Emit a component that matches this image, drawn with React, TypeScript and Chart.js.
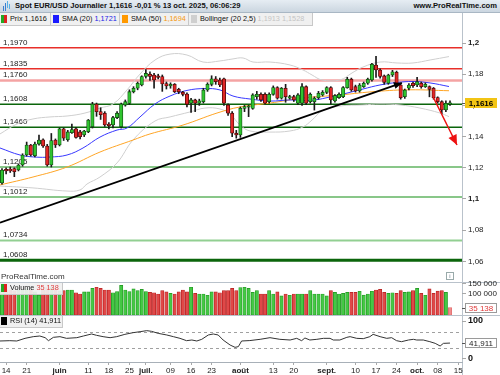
import React, { useEffect, useRef } from 'react';
import { Chart, registerables } from 'chart.js';

Chart.register(...registerables);

const FONT = "'Liberation Sans', Arial, sans-serif";

// ---------------- DATA ----------------
// trading-day index 0 = 13 May 2025 ... 109 = 13 Oct 2025
const opens = [
  1.1103, 1.1190, 1.1192, 1.1195, 1.1186, 1.1218, 1.1282, 1.1346, 1.1278, 1.1352,
  1.1380, 1.1340, 1.1218, 1.1378, 1.1346, 1.1450, 1.1380, 1.1425, 1.1450, 1.1430,
  1.1410, 1.1431, 1.1463, 1.1609, 1.1560, 1.1550, 1.1480, 1.1475, 1.1522, 1.1463,
  1.1602, 1.1613, 1.1688, 1.1710, 1.1731, 1.1785, 1.1800, 1.1795, 1.1790, 1.1785,
  1.1740, 1.1725, 1.1735, 1.1703, 1.1684, 1.1673, 1.1614, 1.1635, 1.1614, 1.1624,
  1.1699, 1.1735, 1.1770, 1.1763, 1.1770, 1.1603, 1.1550, 1.1422, 1.1410, 1.1581,
  1.1588, 1.1581, 1.1656, 1.1671, 1.1671, 1.1624, 1.1671, 1.1714, 1.1646, 1.1710,
  1.1646, 1.1656, 1.1614, 1.1614, 1.1720, 1.1624, 1.1624, 1.1650, 1.1667, 1.1684,
  1.1714, 1.1629, 1.1650, 1.1656, 1.1714, 1.1768, 1.1720, 1.1693, 1.1720, 1.1742,
  1.1763, 1.1859, 1.1827, 1.1789, 1.1742, 1.1795, 1.1812, 1.1731, 1.1656, 1.1710,
  1.1742, 1.1731, 1.1742, 1.1720, 1.1720, 1.1710, 1.1650, 1.1624, 1.1571, 1.1609,
];
const highs = [
  1.1195, 1.1200, 1.1205, 1.1200, 1.1225, 1.1290, 1.1365, 1.1350, 1.1365, 1.1410,
  1.1385, 1.1350, 1.1420, 1.1385, 1.1455, 1.1455, 1.1440, 1.1480, 1.1460, 1.1440,
  1.1440, 1.1510, 1.1620, 1.1615, 1.1585, 1.1560, 1.1490, 1.1530, 1.1560, 1.1615,
  1.1635, 1.1700, 1.1720, 1.1750, 1.1790, 1.1830, 1.1815, 1.1805, 1.1800, 1.1795,
  1.1750, 1.1745, 1.1740, 1.1710, 1.1690, 1.1680, 1.1645, 1.1640, 1.1640, 1.1710,
  1.1745, 1.1790, 1.1785, 1.1775, 1.1775, 1.1610, 1.1560, 1.1440, 1.1590, 1.1600,
  1.1600, 1.1675, 1.1690, 1.1680, 1.1680, 1.1680, 1.1725, 1.1720, 1.1715, 1.1735,
  1.1665, 1.1665, 1.1675, 1.1740, 1.1725, 1.1680, 1.1655, 1.1690, 1.1695, 1.1720,
  1.1720, 1.1670, 1.1680, 1.1720, 1.1780, 1.1775, 1.1730, 1.1740, 1.1750, 1.1775,
  1.1870, 1.1915, 1.1835, 1.1795, 1.1800, 1.1825, 1.1820, 1.1735, 1.1705, 1.1740,
  1.1750, 1.1780, 1.1750, 1.1745, 1.1725, 1.1715, 1.1655, 1.1630, 1.1630, 1.1630,
];
const lows = [
  1.1095, 1.1160, 1.1170, 1.1143, 1.1180, 1.1210, 1.1275, 1.1275, 1.1270, 1.1345,
  1.1330, 1.1210, 1.1205, 1.1330, 1.1340, 1.1375, 1.1370, 1.1420, 1.1390, 1.1385,
  1.1400, 1.1425, 1.1455, 1.1530, 1.1510, 1.1465, 1.1450, 1.1455, 1.1515, 1.1455,
  1.1595, 1.1605, 1.1680, 1.1700, 1.1725, 1.1775, 1.1760, 1.1710, 1.1770, 1.1690,
  1.1705, 1.1710, 1.1682, 1.1675, 1.1660, 1.1590, 1.1555, 1.1560, 1.1600, 1.1615,
  1.1690, 1.1725, 1.1735, 1.1720, 1.1600, 1.1535, 1.1400, 1.1390, 1.1395, 1.1560,
  1.1528, 1.1575, 1.1640, 1.1625, 1.1608, 1.1615, 1.1665, 1.1640, 1.1640, 1.1620,
  1.1640, 1.1625, 1.1605, 1.1600, 1.1605, 1.1615, 1.1570, 1.1640, 1.1660, 1.1675,
  1.1608, 1.1620, 1.1645, 1.1650, 1.1710, 1.1690, 1.1685, 1.1685, 1.1715, 1.1735,
  1.1755, 1.1780, 1.1775, 1.1735, 1.1735, 1.1785, 1.1725, 1.1640, 1.1645, 1.1700,
  1.1715, 1.1720, 1.1710, 1.1715, 1.1655, 1.1640, 1.1615, 1.1545, 1.1560, 1.1600,
];
const closes = [
  1.1186, 1.1180, 1.1180, 1.1175, 1.1218, 1.1282, 1.1346, 1.1282, 1.1352, 1.1378,
  1.1340, 1.1218, 1.1375, 1.1346, 1.1450, 1.1390, 1.1430, 1.1445, 1.1395, 1.1400,
  1.1435, 1.1506, 1.1609, 1.1560, 1.1540, 1.1475, 1.1470, 1.1522, 1.1550, 1.1609,
  1.1624, 1.1688, 1.1710, 1.1742, 1.1785, 1.1805, 1.1785, 1.1763, 1.1780, 1.1737,
  1.1725, 1.1735, 1.1688, 1.1688, 1.1671, 1.1607, 1.1635, 1.1614, 1.1630, 1.1699,
  1.1735, 1.1770, 1.1752, 1.1731, 1.1614, 1.1550, 1.1422, 1.1410, 1.1581, 1.1592,
  1.1595, 1.1667, 1.1671, 1.1635, 1.1614, 1.1671, 1.1714, 1.1646, 1.1710, 1.1656,
  1.1656, 1.1635, 1.1667, 1.1720, 1.1614, 1.1671, 1.1646, 1.1678, 1.1684, 1.1714,
  1.1635, 1.1663, 1.1671, 1.1714, 1.1768, 1.1699, 1.1693, 1.1731, 1.1742, 1.1768,
  1.1864, 1.1827, 1.1785, 1.1748, 1.1795, 1.1816, 1.1731, 1.1650, 1.1699, 1.1731,
  1.1727, 1.1752, 1.1720, 1.1735, 1.1703, 1.1650, 1.1624, 1.1571, 1.1614, 1.1616,
];
const volumes = [
  125000, 120000, 118000, 115000, 118000, 120000, 125000, 118000, 110000, 94000,
  120000, 130000, 130000, 120000, 115000, 116000, 119000, 119000, 106000, 100000,
  110000, 110000, 127000, 132000, 127000, 119000, 119000, 106000, 111000, 141000,
  119000, 111000, 124000, 116000, 122000, 111000, 108000, 106000, 100000, 116000,
  110000, 103000, 100000, 110000, 119000, 110000, 132000, 103000, 100000, 100000,
  94000, 110000, 110000, 106000, 116000, 116000, 127000, 116000, 130000, 132000,
  127000, 108000, 116000, 100000, 100000, 116000, 100000, 110000, 91000, 100000,
  94000, 100000, 100000, 100000, 100000, 116000, 100000, 100000, 100000, 91000,
  116000, 108000, 100000, 103000, 108000, 108000, 108000, 113000, 95000, 100000,
  113000, 119000, 122000, 108000, 103000, 106000, 103000, 116000, 108000, 110000,
  116000, 127000, 103000, 94000, 124000, 103000, 114000, 116000, 108000, 35138,
];

// indicator curves (index, value)
const sma20Idx = [-0.49, 4.38, 8.03, 11.68, 15.82, 19.71, 23.84, 27.98, 30.41, 33.58, 37.23, 40.88, 45.01, 49.39, 53.04, 56.2, 60.34, 65.21, 70.07, 73.24, 76.16, 79.81, 83.94, 87.83, 91.97, 96.11, 100.0, 104.14, 108.76];
const sma20Val = [1.1327, 1.1282, 1.1269, 1.1269, 1.1282, 1.1327, 1.1397, 1.1442, 1.1455, 1.1526, 1.1609, 1.1660, 1.1696, 1.1708, 1.1699, 1.1660, 1.1641, 1.1628, 1.1635, 1.1631, 1.1635, 1.1654, 1.1679, 1.1705, 1.1731, 1.1747, 1.1753, 1.1744, 1.1721];
const sma50Idx = [-0.49, 7.54, 15.82, 23.84, 31.87, 36.01, 44.04, 52.31, 57.91, 65.21, 73.24, 82.24, 91.24, 99.27, 108.76];
const sma50Val = [1.1090, 1.1141, 1.1205, 1.1301, 1.1378, 1.1417, 1.1474, 1.1551, 1.1590, 1.1615, 1.1647, 1.1667, 1.1690, 1.1700, 1.1694];
const bbUpIdx = [-0.49, 3.65, 7.54, 11.68, 15.82, 20.19, 23.84, 27.01, 30.41, 33.58, 37.23, 40.88, 45.01, 48.91, 53.04, 55.96, 58.64, 61.07, 65.21, 70.07, 73.24, 75.43, 77.86, 82.24, 85.16, 87.83, 91.97, 96.11, 100.0, 104.14, 108.76];
const bbUpVal = [1.1417, 1.1481, 1.1513, 1.1526, 1.1532, 1.1551, 1.1583, 1.1609, 1.1699, 1.1801, 1.1891, 1.1929, 1.1923, 1.1878, 1.1885, 1.1897, 1.1904, 1.1878, 1.1878, 1.1859, 1.1827, 1.1795, 1.1763, 1.1763, 1.1808, 1.1846, 1.1878, 1.1872, 1.1872, 1.1891, 1.1913];
const bbLoIdx = [-0.49, 7.54, 15.82, 18.98, 20.68, 23.84, 27.98, 31.87, 37.23, 40.88, 45.74, 49.39, 53.04, 55.47, 57.91, 60.34, 65.21, 70.07, 73.24, 75.43, 77.86, 82.24, 87.83, 91.97, 96.84, 101.7, 106.57, 108.76];
const bbLoVal = [1.1083, 1.1071, 1.1051, 1.1058, 1.1096, 1.1141, 1.1231, 1.1378, 1.1500, 1.1526, 1.1558, 1.1583, 1.1577, 1.1545, 1.1474, 1.1436, 1.1429, 1.1436, 1.1462, 1.1506, 1.1564, 1.1596, 1.1603, 1.1609, 1.1603, 1.1583, 1.1551, 1.1528];

const rsiIdx = [-0.49, 1.9, 3.6, 5.6, 7.6, 9.2, 10.5, 11.3, 12.5, 14.1, 15.7, 18.2, 19.8, 21.8, 23.0, 24.6, 26.3, 27.9, 29.9, 31.9, 33.6, 35.2, 36.4, 38.0, 40.1, 41.7, 43.3, 44.9, 46.2, 47.4, 48.6, 50.2, 51.4, 52.6, 53.8, 55.5, 56.7, 57.5, 58.3, 60.3, 62.8, 65.2, 67.6, 70.1, 71.7, 72.9, 73.7, 74.9, 76.6, 78.2, 79.8, 80.6, 82.2, 83.9, 84.7, 86.3, 87.9, 89.5, 90.3, 92.0, 93.6, 94.8, 96.0, 97.2, 98.9, 100.1, 100.9, 102.5, 104.1, 105.4, 106.6, 107.4, 109];
const rsiVal = [47.4, 48.2, 47.4, 54.4, 58.8, 60.5, 56.1, 48.2, 57.0, 58.8, 54.4, 56.1, 60.5, 65.8, 62.3, 58.8, 56.1, 58.8, 64.9, 69.3, 71.9, 74.6, 72.8, 67.5, 63.2, 58.8, 54.4, 48.2, 50.0, 47.4, 51.8, 63.2, 65.8, 63.2, 50.0, 36.8, 30.7, 32.5, 47.4, 48.5, 51.8, 56.1, 51.8, 50.0, 54.4, 48.2, 55.3, 50.0, 51.8, 54.4, 54.4, 50.0, 50.0, 57.0, 58.8, 54.4, 53.5, 58.8, 64.9, 58.8, 54.4, 56.1, 48.2, 45.6, 50.0, 51.8, 50.0, 50.0, 45.6, 41.2, 34.2, 41.2, 41.911];

// drawn lines
const trendIdx = [-0.49, 97.3];
const trendVal = [1.0848, 1.1744];
const arrowIdx = [104.9, 110.7];
const arrowVal = [1.1654, 1.1346];

// horizontal levels
const levelValues = [1.1970, 1.1835, 1.1760, 1.1608, 1.1460, 1.1205, 1.1012, 1.0734, 1.0608];
const levelLabels = ['1,1970', '1,1835', '1,1760', '1,1608', '1,1460', '1,1205', '1,1012', '1,0734', '1,0608'];
const levelColors = ['#e8302a', '#e8302a', '#f4a3a3', '#0b650b', '#0b650b', '#62b462', '#62b462', '#92cf92', '#0b650b'];
const levelWidths = [1.5, 1.5, 2.5, 1.5, 1.5, 1.5, 1.5, 2, 3];

// axes
const priceTicks = [1.06, 1.08, 1.1, 1.12, 1.14, 1.16, 1.18, 1.2];
const priceTickLabels = ['1,06', '1,08', '1,1', '1,12', '1,14', '1,16', '1,18', '1,2'];
const volTicks = [100000, 150000];
const volTickLabels = ['100 000', '150 000'];
const rsiTicks = [0, 100];
const dateTickIdx = [1, 6, 14, 21, 26, 31, 35, 41, 46, 51, 58, 66, 71, 79, 86, 91, 96, 101, 106, 111];
const dateTickLabels = ['14', '21', 'juin', '11', '18', '25', 'juil.', '09', '16', '23', 'août', '13', '20', 'sept.', '10', '17', '24', 'oct.', '08', '15'];
const monthLabels = ['juin', 'juil.', 'août', 'sept.', 'oct.'];

const X_MIN = -0.487;
const X_MAX = 111.92;

// ---------------- helpers ----------------
const pts = (xs: number[], ys: number[]) => xs.map((x, i) => ({ x, y: ys[i] }));
const isUp = (i: number) => closes[i] >= opens[i];

function arrowHead(ctx: CanvasRenderingContext2D, x1: number, y1: number, x2: number, y2: number, len: number, half: number, color: string) {
  const a = Math.atan2(y2 - y1, x2 - x1);
  const bx = x2 - len * Math.cos(a);
  const by = y2 - len * Math.sin(a);
  ctx.save();
  ctx.fillStyle = color;
  ctx.beginPath();
  ctx.moveTo(x2, y2);
  ctx.lineTo(bx + half * Math.sin(a), by - half * Math.cos(a));
  ctx.lineTo(bx - half * Math.sin(a), by + half * Math.cos(a));
  ctx.closePath();
  ctx.fill();
  ctx.restore();
}

function valueBox(ctx: CanvasRenderingContext2D, y: number, text: string, fill: string, stroke: string | null, color: string, bold: boolean) {
  ctx.save();
  ctx.fillStyle = fill;
  ctx.fillRect(465, y - 5, 32, 10);
  if (stroke) {
    ctx.strokeStyle = stroke;
    ctx.lineWidth = 1;
    ctx.strokeRect(465.5, y - 4.5, 31, 9);
  }
  ctx.strokeStyle = '#555';
  ctx.beginPath();
  ctx.moveTo(462, y + 0.5);
  ctx.lineTo(465, y + 0.5);
  ctx.stroke();
  ctx.fillStyle = color;
  ctx.font = `${bold ? 'bold ' : ''}8px ${FONT}`;
  ctx.textAlign = 'center';
  ctx.textBaseline = 'middle';
  ctx.fillText(text, 481, y + 0.5);
  ctx.restore();
}

const yAxisBase = (min: number, max: number) => ({
  type: 'linear',
  position: 'right',
  min,
  max,
  afterFit: (s: any) => {
    s.width = 38;
    s.paddingTop = 0;
    s.paddingBottom = 0;
  },
  grid: { drawOnChartArea: false, drawTicks: true, tickLength: 4, color: '#a8a8a8' },
  border: { display: false },
});

const hiddenX = { type: 'linear', min: X_MIN, max: X_MAX, offset: false, display: false };

const baseOptions = (top: number, bottom: number) => ({
  responsive: false,
  animation: false,
  events: [],
  layout: { padding: { left: 0, right: 0, top, bottom } },
  plugins: { legend: { display: false }, tooltip: { enabled: false } },
});

// ---------------- price chart ----------------
function priceConfig(): any {
  const idx = closes.map((_, i) => i);
  const bodies = idx.map((i) => {
    let o = opens[i];
    let c = closes[i];
    if (Math.abs(c - o) < 0.00025) c = o + (isUp(i) ? 0.00025 : -0.00025);
    return { x: i, y: [o, c] };
  });
  const decor = {
    id: 'priceDecor',
    beforeDatasetsDraw(chart: any) {
      const { ctx, chartArea: a, scales } = chart;
      const y = scales.y;
      ctx.save();
      levelValues.forEach((v, i) => {
        const py = y.getPixelForValue(v);
        ctx.strokeStyle = levelColors[i];
        ctx.lineWidth = levelWidths[i];
        ctx.beginPath();
        ctx.moveTo(a.left, py);
        ctx.lineTo(a.right, py);
        ctx.stroke();
        ctx.fillStyle = '#222';
        ctx.font = `8px ${FONT}`;
        ctx.textAlign = 'left';
        ctx.textBaseline = 'alphabetic';
        ctx.fillText(levelLabels[i], 3, py - levelWidths[i] / 2 - 2);
      });
      ctx.restore();
    },
    afterDatasetsDraw(chart: any) {
      const { ctx, scales } = chart;
      const x = scales.x;
      const y = scales.y;
      arrowHead(ctx, x.getPixelForValue(trendIdx[0]), y.getPixelForValue(trendVal[0]), x.getPixelForValue(trendIdx[1]), y.getPixelForValue(trendVal[1]), 8, 3.5, '#000');
      arrowHead(ctx, x.getPixelForValue(arrowIdx[0]), y.getPixelForValue(arrowVal[0]), x.getPixelForValue(arrowIdx[1]), y.getPixelForValue(arrowVal[1]), 10, 4.5, '#ee1111');
      const last = closes.length - 1;
      valueBox(ctx, Math.round(y.getPixelForValue(closes[last])), '1,1616', '#f2c414', null, '#000', true);
    },
  };
  return {
    type: 'bar',
    data: {
      datasets: [
        { type: 'line', data: pts(trendIdx, trendVal), borderColor: '#000', borderWidth: 1.8, pointRadius: 0, order: -1 },
        { type: 'line', data: pts(arrowIdx, arrowVal), borderColor: '#ee1111', borderWidth: 1.5, pointRadius: 0, order: -2 },
        {
          type: 'bar',
          data: bodies,
          backgroundColor: idx.map((i) => (isUp(i) ? '#2fc42f' : '#e02626')),
          borderColor: idx.map((i) => (isUp(i) ? '#124d12' : '#4d0a0a')),
          borderWidth: 0.8,
          borderSkipped: false,
          barThickness: 3.4,
          grouped: false,
          order: 0,
        },
        {
          type: 'bar',
          data: idx.map((i) => ({ x: i, y: [lows[i], highs[i]] })),
          backgroundColor: '#1a1a1a',
          barThickness: 1,
          grouped: false,
          order: 1,
        },
        { type: 'line', data: pts(sma20Idx, sma20Val), borderColor: '#3838ff', borderWidth: 1, pointRadius: 0, tension: 0.4, order: 2 },
        { type: 'line', data: pts(sma50Idx, sma50Val), borderColor: '#ffa526', borderWidth: 1, pointRadius: 0, tension: 0.4, order: 3 },
        { type: 'line', data: pts(bbUpIdx, bbUpVal), borderColor: '#cfcfcf', borderWidth: 1, pointRadius: 0, tension: 0.4, order: 4 },
        { type: 'line', data: pts(bbLoIdx, bbLoVal), borderColor: '#cfcfcf', borderWidth: 1, pointRadius: 0, tension: 0.4, order: 4 },
      ],
    },
    options: {
      ...baseOptions(27, 375 - 282),
      scales: {
        x: hiddenX,
        y: {
          ...yAxisBase(1.04679, 1.21026),
          afterBuildTicks: (s: any) => {
            s.ticks = priceTicks.map((v) => ({ value: v }));
          },
          ticks: {
            autoSkip: false,
            padding: 2,
            color: '#222',
            callback: (_v: any, i: number) => priceTickLabels[i],
            font: (c: any) => ({ family: FONT, size: 8, weight: c.tick && (c.tick.value === 1.2 || c.tick.value === 1.1) ? 'bold' : 'normal' }),
          },
        },
      },
    },
    plugins: [decor],
  };
}

// ---------------- volume chart ----------------
function volumeConfig(): any {
  const idx = volumes.map((_, i) => i);
  const last = volumes.length - 1;
  const decor = {
    id: 'volDecor',
    afterDatasetsDraw(chart: any) {
      const y = chart.scales.y;
      valueBox(chart.ctx, Math.round(y.getPixelForValue(volumes[last])), '35 138', '#fff', '#9a9a9a', '#e03a3a', false);
    },
  };
  return {
    type: 'bar',
    data: {
      datasets: [
        {
          data: idx.map((i) => ({ x: i, y: volumes[i] })),
          backgroundColor: idx.map((i) => (i === last ? '#f08c8c' : isUp(i) ? '#45c845' : '#e04848')),
          borderColor: idx.map((i) => (i === last ? '#e06a6a' : isUp(i) ? '#1f951f' : '#b51f1f')),
          borderWidth: 0.7,
          borderSkipped: false,
          barThickness: 3.3,
          grouped: false,
        },
      ],
    },
    options: {
      ...baseOptions(282, 375 - 315),
      scales: {
        x: hiddenX,
        y: {
          ...yAxisBase(0, 157000),
          afterBuildTicks: (s: any) => {
            s.ticks = volTicks.map((v) => ({ value: v }));
          },
          ticks: {
            autoSkip: false,
            padding: 2,
            color: '#222',
            callback: (_v: any, i: number) => volTickLabels[i],
            font: { family: FONT, size: 8 },
          },
        },
      },
    },
    plugins: [decor],
  };
}

// ---------------- RSI chart ----------------
function rsiConfig(): any {
  const decor = {
    id: 'rsiDecor',
    beforeDatasetsDraw(chart: any) {
      const { ctx, chartArea: a, scales } = chart;
      ctx.save();
      ctx.strokeStyle = '#a0a0a0';
      ctx.lineWidth = 1;
      ctx.setLineDash([3, 3]);
      [70, 30].forEach((v) => {
        const py = Math.round(scales.y.getPixelForValue(v)) + 0.5;
        ctx.beginPath();
        ctx.moveTo(a.left, py);
        ctx.lineTo(a.right, py);
        ctx.stroke();
      });
      ctx.restore();
    },
    afterDatasetsDraw(chart: any) {
      const y = chart.scales.y;
      valueBox(chart.ctx, Math.round(y.getPixelForValue(rsiVal[rsiVal.length - 1])), '41,911', '#fff', '#9a9a9a', '#222', false);
    },
  };
  return {
    type: 'line',
    data: {
      datasets: [
        { data: pts(rsiIdx, rsiVal), borderColor: '#333', borderWidth: 1, pointRadius: 0, tension: 0 },
      ],
    },
    options: {
      ...baseOptions(315, 0),
      scales: {
        x: {
          type: 'linear',
          min: X_MIN,
          max: X_MAX,
          offset: false,
          position: 'bottom',
          afterBuildTicks: (s: any) => {
            s.ticks = dateTickIdx.map((v) => ({ value: v }));
          },
          afterFit: (s: any) => {
            s.height = 13;
            s.paddingLeft = 0;
            s.paddingRight = 0;
          },
          grid: { drawOnChartArea: false, drawTicks: true, tickLength: 3, color: '#a8a8a8' },
          border: { display: true, color: '#a8b0b8' },
          ticks: {
            autoSkip: false,
            maxRotation: 0,
            padding: 1,
            color: '#222',
            callback: (_v: any, i: number) => dateTickLabels[i],
            font: (c: any) => ({ family: FONT, size: 8, weight: c.index !== undefined && monthLabels.includes(dateTickLabels[c.index]) ? 'bold' : 'normal' }),
          },
        },
        y: {
          ...yAxisBase(-7.9, 115.8),
          afterBuildTicks: (s: any) => {
            s.ticks = rsiTicks.map((v) => ({ value: v }));
          },
          ticks: {
            autoSkip: false,
            padding: 2,
            color: '#111',
            callback: (v: any) => String(v),
            font: { family: FONT, size: 9, weight: 'bold' },
          },
        },
      },
    },
    plugins: [decor],
  };
}

// ---------------- component ----------------
const abs = (s: React.CSSProperties): React.CSSProperties => ({ position: 'absolute', ...s });

export default function App() {
  const r1 = useRef<HTMLCanvasElement>(null);
  const r2 = useRef<HTMLCanvasElement>(null);
  const r3 = useRef<HTMLCanvasElement>(null);

  useEffect(() => {
    const c1 = new Chart(r1.current as HTMLCanvasElement, priceConfig());
    const c2 = new Chart(r2.current as HTMLCanvasElement, volumeConfig());
    const c3 = new Chart(r3.current as HTMLCanvasElement, rsiConfig());
    return () => {
      c1.destroy();
      c2.destroy();
      c3.destroy();
    };
  }, []);

  const txt: React.CSSProperties = { fontSize: 8, lineHeight: '12px', color: '#111', whiteSpace: 'nowrap' };
  const lg: React.CSSProperties = { ...txt, fontSize: 7.3 };

  return (
    <div style={{ position: 'fixed', left: 0, top: 0, width: 500, height: 375, background: '#fff', overflow: 'hidden', fontFamily: FONT }}>
      {/* panel separators & right axis line */}
      <div style={abs({ left: 0, top: 282, width: 500, height: 1, background: '#b9c2cb' })} />
      <div style={abs({ left: 0, top: 315, width: 500, height: 1, background: '#b9c2cb' })} />
      <div style={abs({ left: 462, top: 12, width: 1, height: 363, background: '#b9c2cb' })} />

      <canvas ref={r1} width={500} height={375} style={abs({ left: 0, top: 0 })} />
      <canvas ref={r2} width={500} height={375} style={abs({ left: 0, top: 0 })} />
      <canvas ref={r3} width={500} height={375} style={abs({ left: 0, top: 0 })} />

      {/* header */}
      <div style={abs({ left: 0, top: 0, width: 500, height: 12, background: 'linear-gradient(#e6edf3, #cbd6e0)', borderBottom: '1px solid #a9b7c4' })}>
        <div style={abs({ left: 3, top: 6, width: 1, height: 5, background: '#3b7fd0' })} />
        <div style={abs({ left: 5, top: 3, width: 1, height: 8, background: '#3b7fd0' })} />
        <div style={abs({ left: 7, top: 1, width: 1, height: 7, background: '#55b0e8' })} />
        <div style={abs({ left: 9, top: 4, width: 1, height: 5, background: '#55b0e8' })} />
        <div style={abs({ left: 15, top: 0, ...txt, fontSize: 7.6, fontWeight: 'bold', lineHeight: '12px' })}>Spot EUR/USD Journalier 1,1616 -0,01 % 13 oct. 2025, 06:06:29</div>
        <div style={abs({ right: 3, top: 0, ...txt, fontSize: 7.6, fontWeight: 'bold', lineHeight: '12px' })}>www.ProRealTime.com</div>
      </div>

      {/* legend row */}
      <div style={abs({ left: 0, top: 13, width: 312, height: 12, background: '#f0f0f0', borderBottom: '1px solid #c8c8c8', borderRight: '1px solid #c8c8c8' })}>
        <div style={abs({ left: 1, top: 2, width: 3, height: 8, background: '#23a923' })} />
        <div style={abs({ left: 4, top: 2, width: 3, height: 8, background: '#dd2222' })} />
        <div style={abs({ left: 10, top: 0, ...lg })}>Prix 1,1616</div>
        <div style={abs({ left: 50, top: 0, width: 1, height: 12, background: '#c8c8c8' })} />
        <div style={abs({ left: 53, top: 2, width: 6, height: 8, background: '#1a1aff' })} />
        <div style={abs({ left: 62, top: 0, ...lg })}>
          SMA (20) <span style={{ color: '#2323e6' }}>1,1721</span>
        </div>
        <div style={abs({ left: 119, top: 0, width: 1, height: 12, background: '#c8c8c8' })} />
        <div style={abs({ left: 122, top: 2, width: 6, height: 8, background: '#ff9900' })} />
        <div style={abs({ left: 131, top: 0, ...lg })}>
          SMA (50) <span style={{ color: '#f59a10' }}>1,1694</span>
        </div>
        <div style={abs({ left: 188, top: 0, width: 1, height: 12, background: '#c8c8c8' })} />
        <div style={abs({ left: 191, top: 2, width: 6, height: 8, background: '#cfcfcf' })} />
        <div style={abs({ left: 200, top: 0, ...lg })}>
          Bollinger (20 2,5) <span style={{ color: '#c4c4c4' }}>1,1913 1,1528</span>
        </div>
      </div>

      {/* watermark & info */}
      <div style={abs({ left: 1, top: 271, ...txt, color: '#333' })}>ProRealTime.com</div>
      <div style={abs({ left: 446, top: 272, width: 6, height: 6, border: '1px solid #9aa', fontSize: 6, lineHeight: '6px', textAlign: 'center', color: '#678' })}>i</div>

      {/* volume legend */}
      <div style={abs({ left: 0, top: 283, width: 62, height: 11, background: 'rgba(240,240,240,0.92)', borderBottom: '1px solid #c8c8c8', borderRight: '1px solid #c8c8c8' })}>
        <div style={abs({ left: 1, top: 1, width: 3, height: 8, background: '#23a923' })} />
        <div style={abs({ left: 4, top: 1, width: 3, height: 8, background: '#dd2222' })} />
        <div style={abs({ left: 10, top: -1, ...lg })}>
          Volume <span style={{ color: '#e04040' }}>35 138</span>
        </div>
      </div>

      {/* RSI legend */}
      <div style={abs({ left: 0, top: 316, width: 62, height: 11, background: '#f0f0f0', borderBottom: '1px solid #c8c8c8', borderRight: '1px solid #c8c8c8' })}>
        <div style={abs({ left: 1, top: 1, width: 6, height: 8, background: '#000' })} />
        <div style={abs({ left: 10, top: -1, ...lg })}>RSI (14) 41,911</div>
      </div>
    </div>
  );
}
